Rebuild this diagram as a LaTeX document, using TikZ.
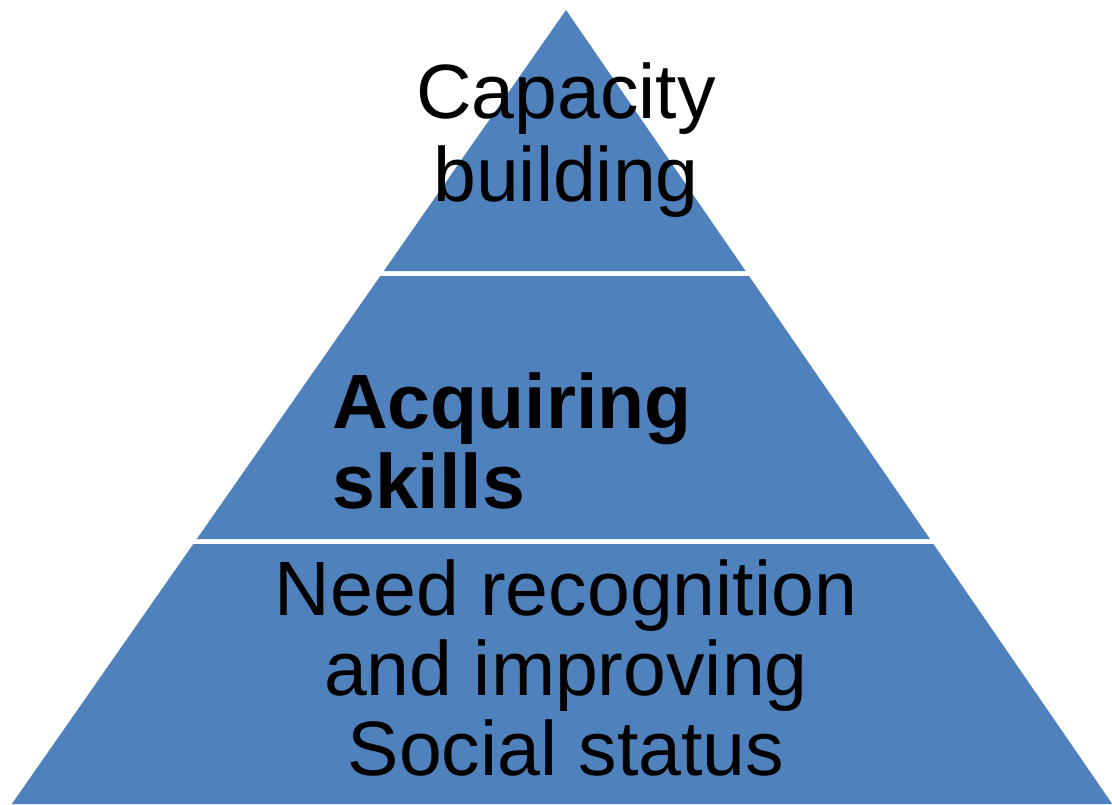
\documentclass[tikz,border=0pt]{standalone}
\usepackage{fontspec}
\setmainfont{Liberation Sans}
\usepackage{tikz}
\usetikzlibrary{positioning,calc}

\definecolor{tierblue}{HTML}{4F81BD}

\tikzset{
    tier/.style={fill=tierblue, draw=none},
    tierlabel/.style={inner sep=0pt, text=black, font=\fontsize{77}{80}\selectfont}
}

\begin{document}
\begin{tikzpicture}[x=1pt, y=-1pt]
        \useasboundingbox (0,0) rectangle (1112,804);

        % three tiers, white gaps between them
        \fill[tier] (566,10) -- (745.6,271) -- (383.8,271) -- cycle;
        \fill[tier] (380.3,276) -- (749.0,276) -- (930.0,539) -- (196.8,539) -- cycle;
        \fill[tier] (193.3,544) -- (933.4,544) -- (1112.3,804) -- (11.8,804) -- cycle;

        % base anchor sits on the last line
        \node[tierlabel, align=center, anchor=base] (capacity) at (566,201)
            {Capacity\\[3pt]building};
        \node[tierlabel, align=left, anchor=base west, font=\fontsize{77}{80}\selectfont\bfseries] (skills) at (332,508)
            {Acquiring\\skills};
        \node[tierlabel, align=center, anchor=base] (status) at (566,775)
            {Need recognition\\and improving\\Social status};
    \end{tikzpicture}
\end{document}
